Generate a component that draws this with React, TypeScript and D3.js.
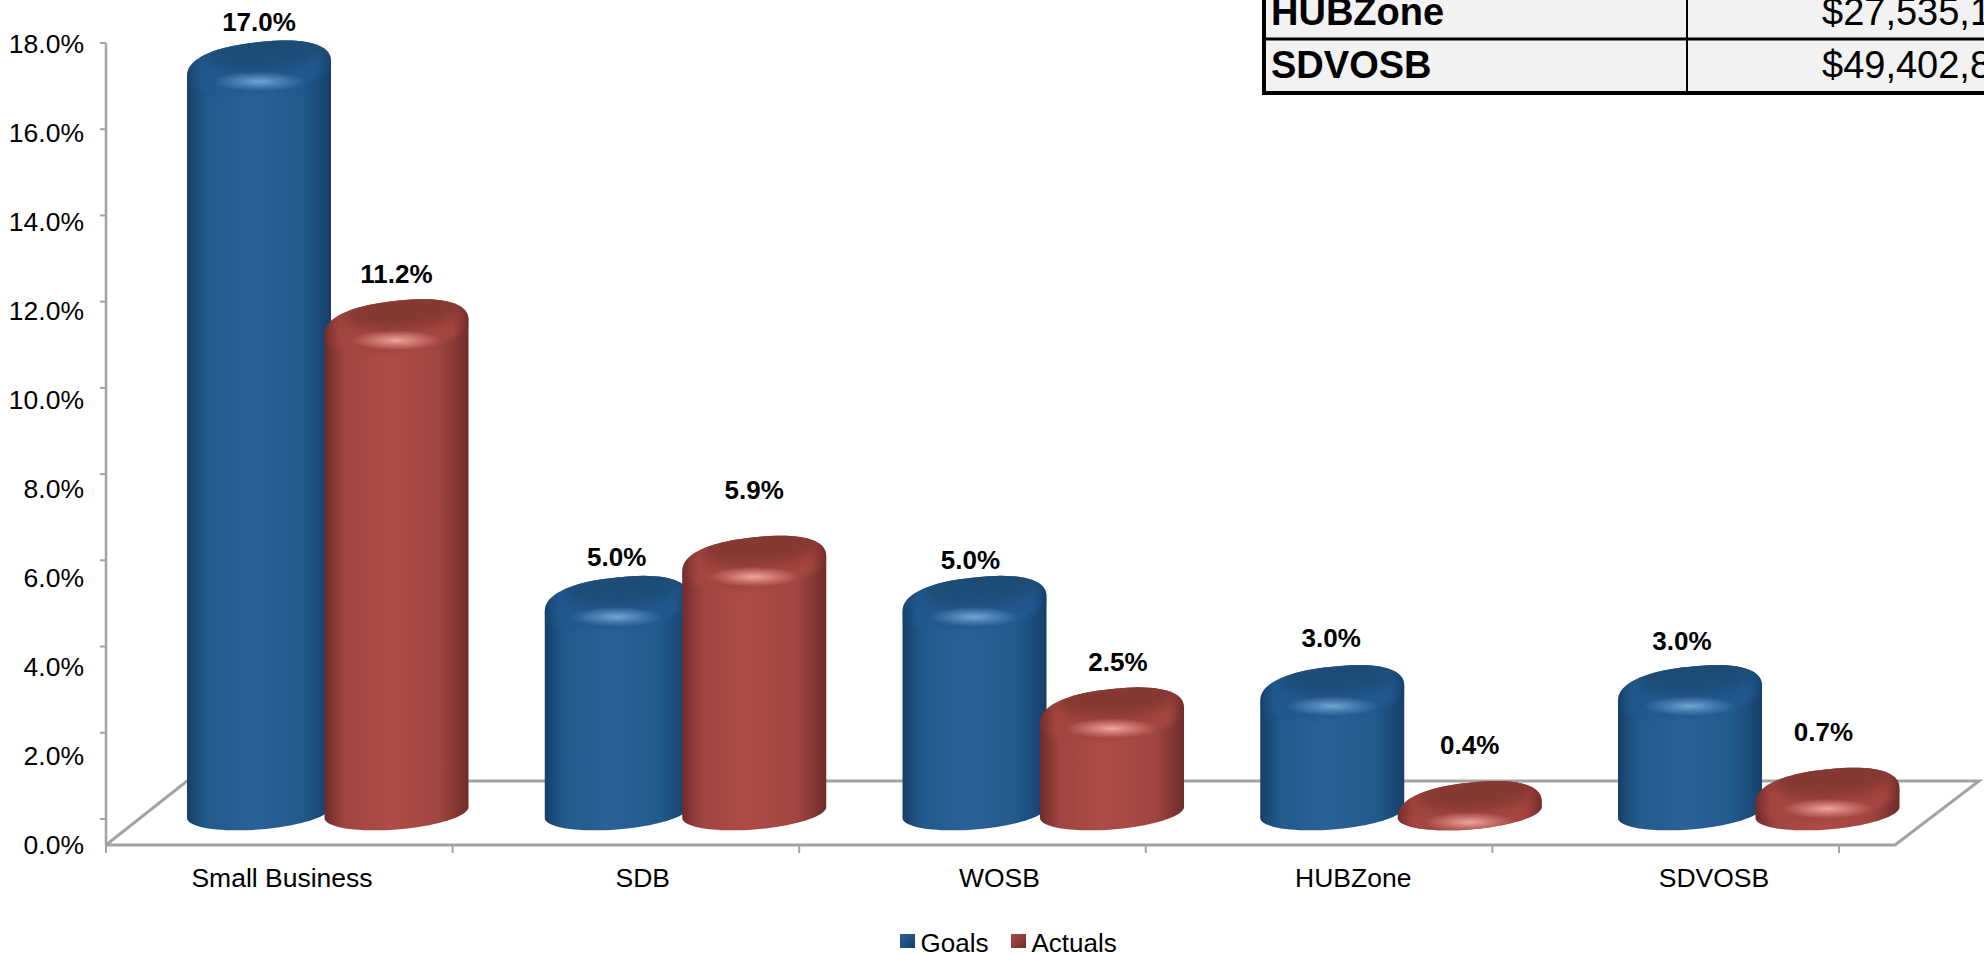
import React, { useRef, useEffect } from 'react';
import * as d3 from 'd3';

const categories = ['Small Business', 'SDB', 'WOSB', 'HUBZone', 'SDVOSB'];
const goals = [17.0, 5.0, 5.0, 3.0, 3.0];
const actuals = [11.2, 5.9, 2.5, 0.4, 0.7];
const yTicks = [0, 2, 4, 6, 8, 10, 12, 14, 16, 18];
const tableRows = ['HUBZone', 'SDVOSB'];
const tableValues = ['$27,535,1', '$49,402,8'];

// the labels in the picture are not at a constant distance from the bars
const goalLift = [19, 19, 16, 27, 24];
const actualLift = [25, 46, 26, 36, 36];
const goalShift = [0, 0, -4, -1, -8];
const actualShift = [0, 0, 6, 0, -4];
const categoryShift = [0, 3, 2, -2, 1];

const width = 1984;
const height = 954;
const barWidth = 144;
const font = '"Liberation Sans", Arial, sans-serif';

const palette = {
  goals: { edge: '#16406a', side: '#215a8c', mid: '#2c6197', cap: '#1d4c76', rim: '#22598f', glow: '#78a8d6' },
  actuals: { edge: '#6f2c2a', side: '#a04541', mid: '#ae4c47', cap: '#853733', rim: '#a3443f', glow: '#f4aaa2' },
};

export default function App() {
  const svgRef = useRef<SVGSVGElement>(null);

  useEffect(() => {
    if (!svgRef.current) return;
    const svg = d3.select(svgRef.current);
    svg.selectAll('*').remove();

    // walls and bars are drawn in fake 3D, so each has its own vertical scale
    const tickY = d3.scaleLinear().domain([0, 18]).range([819, 43]);
    const labelY = d3.scaleLinear().domain([0, 18]).range([845, 44]);
    const barTop = d3.scaleLinear().domain([0, 18]).range([799, -4]);
    const groupX = d3.scalePoint<string>().domain(categories).range([187, 1618]);
    const floorX = d3.scaleLinear().domain([0, 5]).range([106, 1839]);

    const defs = svg.append('defs');
    const blur = (id: string, dev: number) =>
      defs.append('filter').attr('id', id)
        .attr('x', '-30%').attr('y', '-60%').attr('width', '160%').attr('height', '220%')
        .append('feGaussianBlur').attr('stdDeviation', dev);
    blur('soft', 6);
    blur('softer', 2.5);

    Object.entries(palette).forEach(([key, c]) => {
      const side = defs.append('linearGradient').attr('id', `side-${key}`);
      [[0, c.edge], [0.14, c.side], [0.45, c.mid], [0.8, c.side], [1, c.edge]].forEach(([o, col]) =>
        side.append('stop').attr('offset', o as number).attr('stop-color', col as string));
      const rim = defs.append('linearGradient').attr('id', `rim-${key}`);
      [[0, c.edge], [0.1, c.rim], [0.9, c.rim], [1, c.edge]].forEach(([o, col]) =>
        rim.append('stop').attr('offset', o as number).attr('stop-color', col as string));
      const glow = defs.append('radialGradient').attr('id', `glow-${key}`);
      glow.append('stop').attr('offset', 0).attr('stop-color', c.glow).attr('stop-opacity', 0.95);
      glow.append('stop').attr('offset', 0.5).attr('stop-color', c.glow).attr('stop-opacity', 0.45);
      glow.append('stop').attr('offset', 1).attr('stop-color', c.glow).attr('stop-opacity', 0);
      const chip = defs.append('linearGradient').attr('id', `chip-${key}`)
        .attr('x1', 0).attr('y1', 0).attr('x2', 1).attr('y2', 1);
      chip.append('stop').attr('offset', 0).attr('stop-color', c.mid);
      chip.append('stop').attr('offset', 1).attr('stop-color', c.edge);
    });

    // floor and axis
    const axisColor = '#a3a3a3';
    const floor = d3.line()([[106, 845], [187, 781], [1979, 781], [1895, 845], [106, 845]]);
    svg.append('path').attr('d', floor).attr('fill', 'none').attr('stroke', axisColor).attr('stroke-width', 3);
    svg.append('line').attr('x1', 106).attr('x2', 106).attr('y1', tickY(18)).attr('y2', 845)
      .attr('stroke', axisColor).attr('stroke-width', 2.5);

    svg.append('g').selectAll('line').data(yTicks).join('line')
      .attr('x1', 100).attr('x2', 106)
      .attr('y1', d => tickY(d)).attr('y2', d => tickY(d))
      .attr('stroke', axisColor).attr('stroke-width', 2);
    svg.append('g').selectAll('line').data(d3.range(6)).join('line')
      .attr('x1', d => floorX(d)).attr('x2', d => floorX(d))
      .attr('y1', 845).attr('y2', 853)
      .attr('stroke', axisColor).attr('stroke-width', 2);

    svg.append('g').selectAll('text').data(yTicks).join('text')
      .attr('x', 84).attr('y', d => labelY(d)).attr('dy', '0.35em')
      .attr('text-anchor', 'end').attr('font-size', 26.5)
      .text(d => `${d.toFixed(1)}%`);

    svg.append('g').selectAll('text').data(categories).join('text')
      .attr('x', (d, i) => groupX(d)! + 95 + categoryShift[i]).attr('y', 887)
      .attr('text-anchor', 'middle').attr('font-size', 26.5)
      .text(d => d);

    // one half of a tilted, slightly squared ellipse, left to right
    const halfRim = (cx: number, cy: number, ry: number, tilt: number, dir: number, p: number) =>
      d3.range(0, 41).map(i => {
        const t = Math.PI - (i / 40) * Math.PI;
        const c = Math.cos(t);
        const s = Math.sin(t);
        const dx = Math.sign(c) * Math.pow(Math.abs(c), p);
        const dy = Math.pow(Math.abs(s), p);
        return [cx + (barWidth / 2) * dx, cy - dir * ry * dy - tilt * dx] as [number, number];
      });
    const outline = d3.line();

    const drawBar = (key: 'goals' | 'actuals', value: number, x: number, id: string) => {
      const c = palette[key];
      const top = barTop(value);
      const cx = x + barWidth / 2;
      const upper = halfRim(cx, top + 28.5, 27, 7.5, 1, 0.85);
      const lower = halfRim(cx, 812.5, 17, 5.5, -1, 1).reverse();
      const shape = outline([...upper, ...lower])! + 'Z';

      const g = svg.append('g');
      defs.append('clipPath').attr('id', id).append('path').attr('d', shape);
      g.append('path').attr('d', shape).attr('fill', `url(#side-${key})`);

      const inner = g.append('g').attr('clip-path', `url(#${id})`);
      // bevel round the top of the cylinder
      const bevel = halfRim(cx, top + 29, 24, 7.5, -1, 1);
      inner.append('path')
        .attr('d', outline([...upper, ...bevel.reverse()])! + 'Z')
        .attr('fill', `url(#rim-${key})`).attr('filter', 'url(#softer)');
      inner.append('ellipse')
        .attr('cx', cx + 7).attr('cy', top + 11)
        .attr('rx', 60).attr('ry', 18)
        .attr('transform', `rotate(-5 ${cx + 7} ${top + 11})`)
        .attr('fill', c.cap).attr('filter', 'url(#soft)');
      inner.append('ellipse')
        .attr('cx', cx).attr('cy', top + 41)
        .attr('rx', 46).attr('ry', 10)
        .attr('fill', `url(#glow-${key})`);
    };

    categories.forEach((name, i) => {
      const x = groupX(name)!;
      drawBar('goals', goals[i], x, `clip-g${i}`);
      drawBar('actuals', actuals[i], x + 137.5, `clip-a${i}`);
    });

    // data labels
    const labels = svg.append('g').attr('font-size', 26).attr('font-weight', 700).attr('text-anchor', 'middle');
    categories.forEach((name, i) => {
      const x = groupX(name)!;
      labels.append('text')
        .attr('x', x + barWidth / 2 + goalShift[i]).attr('y', barTop(goals[i]) - goalLift[i]).attr('dy', '0.35em')
        .text(`${goals[i].toFixed(1)}%`);
      labels.append('text')
        .attr('x', x + 137.5 + barWidth / 2 + actualShift[i]).attr('y', barTop(actuals[i]) - actualLift[i]).attr('dy', '0.35em')
        .text(`${actuals[i].toFixed(1)}%`);
    });

    // legend
    const legendItems: [string, 'goals' | 'actuals', number][] = [['Goals', 'goals', 900], ['Actuals', 'actuals', 1011]];
    legendItems.forEach(([text, key, x]) => {
      svg.append('rect').attr('x', x).attr('y', 934).attr('width', 15).attr('height', 14)
        .attr('fill', `url(#chip-${key})`);
      svg.append('text').attr('x', x + 20.5).attr('y', 952).attr('font-size', 26).text(text);
    });

    // piece of a table that overlaps the chart, cut by the picture edge
    const table = svg.append('g');
    table.append('rect').attr('x', 1264).attr('y', -5).attr('width', 730).attr('height', 98)
      .attr('fill', '#f2f2f2');
    table.append('path').attr('d', 'M1264,0V93H1984').attr('fill', 'none').attr('stroke', '#000').attr('stroke-width', 4);
    table.append('line').attr('x1', 1264).attr('x2', 1984).attr('y1', 39).attr('y2', 39).attr('stroke', '#000').attr('stroke-width', 3);
    table.append('line').attr('x1', 1687).attr('x2', 1687).attr('y1', 0).attr('y2', 93).attr('stroke', '#000').attr('stroke-width', 2);
    tableRows.forEach((row, i) => {
      table.append('text').attr('x', 1271).attr('y', 25 + i * 53)
        .attr('font-size', 38).attr('font-weight', 700).text(row);
      table.append('text').attr('x', 1822).attr('y', 25 + i * 53)
        .attr('font-size', 38).text(tableValues[i]);
    });
  }, []);

  return (
    <svg
      ref={svgRef}
      width={width}
      height={height}
      style={{ position: 'absolute', left: 0, top: 0, display: 'block', fontFamily: font, background: '#fff' }}
    />
  );
}
